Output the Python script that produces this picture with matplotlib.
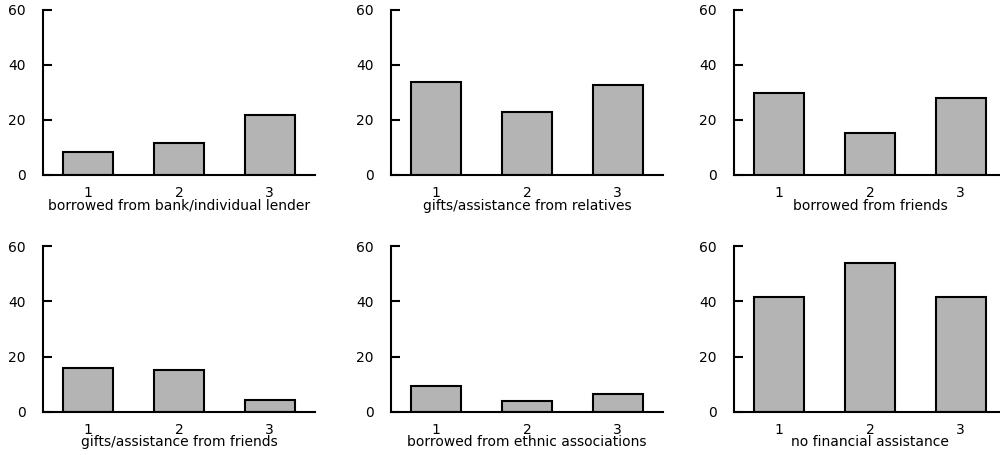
import matplotlib
matplotlib.use("Agg")
import matplotlib.pyplot as plt

plt.rcParams['font.family'] = ['DejaVu Sans']

groups = [1, 2, 3]
bank_lender = [8.4, 11.5, 21.6]
gifts_relatives = [33.7, 22.7, 32.5]
borrowed_friends = [29.9, 15.4, 28.1]
gifts_friends = [15.9, 15.3, 4.1]
ethnic_assoc = [9.2, 3.8, 6.5]
no_assistance = [41.5, 53.9, 41.5]

panels = [
    ("borrowed from bank/individual lender", bank_lender),
    ("gifts/assistance from relatives", gifts_relatives),
    ("borrowed from friends", borrowed_friends),
    ("gifts/assistance from friends", gifts_friends),
    ("borrowed from ethnic associations", ethnic_assoc),
    ("no financial assistance", no_assistance),
]

fig = plt.figure(figsize=(10, 4.55), dpi=100)

lefts = [0.043, 0.391, 0.734]
bottoms = [0.6154, 0.0952]
w, h = 0.272, 0.3635

for i, (label, vals) in enumerate(panels):
    ax = fig.add_axes([lefts[i % 3], bottoms[i // 3], w, h])
    ax.bar(groups, vals, width=0.55, color='#b4b4b4', edgecolor='black', linewidth=1.5)
    ax.set_xlim(0.5, 3.5)
    ax.set_ylim(0, 60)
    ax.set_yticks([0, 20, 40, 60])
    ax.set_xticks(groups)
    for s in ['top', 'right']:
        ax.spines[s].set_visible(False)
    for s in ['left', 'bottom']:
        ax.spines[s].set_linewidth(1.5)
    ax.tick_params(axis='y', direction='in', length=6.5, width=1.5, pad=12.5, labelsize=10)
    ax.tick_params(axis='x', length=0, pad=8, labelsize=10)
    ax.set_xlabel(label, fontsize=10, labelpad=-1)

fig.savefig("out.png", dpi=100)
